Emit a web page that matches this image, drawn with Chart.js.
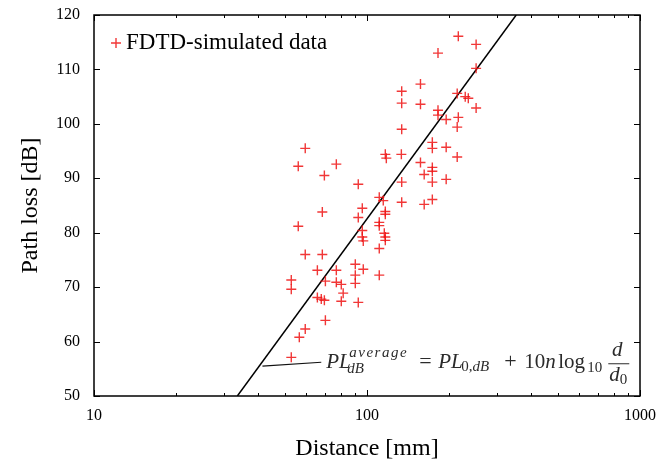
<!DOCTYPE html>
<html><head><meta charset="utf-8">
<script src="https://cdn.jsdelivr.net/npm/chart.js@4/dist/chart.umd.min.js"></script>
<style>html,body{margin:0;padding:0;background:#fff;overflow:hidden}</style>
</head><body>
<canvas id="c" width="660" height="464"></canvas>
<script>
// ---- data ----
const seriesLabel = 'FDTD-simulated data';
const distanceMm = [216,251,182,251,157,134,134,157,214,229,235,251,182,182,195,216,214,134,
  59.4,56.0,77.2,69.8,92.9,116.7,117.7,133.6,173.5,173.5,195,214,157,173.5,173.5,162,173.5,195,134,
  134,162,173.5,110.9,114.7,96.1,68.6,116.7,116.7,92.9,56.0,110.9,110.9,96.1,115.7,116.7,116.7,96.1,96.9,
  110.9,59.4,68.6,90.6,96.9,65.8,77.2,90.6,110.9,52.8,52.8,70.4,77.2,80.5,90.6,81.8,80.5,92.9,65.8,68.0,69.8,
  70.4,59.4,56.5,52.8];
const pathLossDb = [116.1,114.6,113.0,110.2,107.3,106.0,103.8,103.6,105.6,105.0,104.7,102.9,102.5,101.6,100.8,101.2,99.4,99.0,
  95.5,92.2,92.6,90.5,88.9,94.4,93.7,94.4,96.6,95.5,95.7,93.9,92.9,92.0,91.3,90.7,89.3,89.8,89.3,
  85.6,85.2,86.1,86.5,85.9,84.5,83.8,83.9,83.4,82.8,81.2,81.9,81.3,80.4,79.9,79.2,78.6,79.2,78.5,
  77.1,76.0,76.0,74.2,73.3,73.1,73.1,72.2,72.2,71.3,69.6,71.1,70.9,70.5,70.7,68.9,67.4,67.2,68.1,67.8,67.6,
  63.9,62.3,60.8,57.1];
const fitDistanceMm = [33.5, 352];
const fitPathLossDb = [50, 120];
const xTickValues = [10, 100, 1000];
const xMinorTickValues = [20,30,40,50,60,70,80,90,200,300,400,500,600,700,800,900];
const yTickValues = [50,60,70,80,90,100,110,120];
const leaderDistanceMm = [41.4, 68];
const leaderPathLossDb = [55.5, 56.2];

const SERIF = '"Liberation Serif", "Times New Roman", serif';
const RED = 'rgba(238,20,20,0.85)';

const frameTicks = {
  id: 'frameTicks',
  afterDatasetsDraw(chart) {
    const {ctx, chartArea: a, scales: {x, y}} = chart;
    ctx.save();
    ctx.strokeStyle = '#000';
    ctx.lineWidth = 1;
    ctx.beginPath();
    const tick = (px, len, vertical) => {
      if (vertical) {
        ctx.moveTo(px, a.bottom); ctx.lineTo(px, a.bottom - len);
        ctx.moveTo(px, a.top); ctx.lineTo(px, a.top + len);
      } else {
        ctx.moveTo(a.left, px); ctx.lineTo(a.left + len, px);
        ctx.moveTo(a.right, px); ctx.lineTo(a.right - len, px);
      }
    };
    xTickValues.forEach(v => tick(Math.round(x.getPixelForValue(v)) + 0.5, 6, true));
    xMinorTickValues.forEach(v => tick(Math.round(x.getPixelForValue(v)) + 0.5, 3, true));
    yTickValues.forEach(v => tick(Math.round(y.getPixelForValue(v)) + 0.5, 6, false));
    ctx.stroke();
    ctx.lineWidth = 1.5;
    ctx.strokeRect(a.left, a.top, a.right - a.left, a.bottom - a.top);
    ctx.restore();
  }
};

const legendBox = {
  id: 'legendBox',
  afterDatasetsDraw(chart) {
    const {ctx, chartArea: a} = chart;
    const ds = chart.data.datasets[0];
    ctx.save();
    ctx.strokeStyle = ds.borderColor; ctx.lineWidth = 1.4;
    ctx.beginPath();
    ctx.moveTo(a.left + 17, a.top + 28); ctx.lineTo(a.left + 27, a.top + 28);
    ctx.moveTo(a.left + 22, a.top + 23); ctx.lineTo(a.left + 22, a.top + 33);
    ctx.stroke();
    ctx.fillStyle = '#000';
    ctx.font = '23px ' + SERIF;
    ctx.textBaseline = 'alphabetic';
    ctx.fillText(ds.label, a.left + 32, a.top + 34);
    ctx.restore();
  }
};

const formula = {
  id: 'formula',
  afterDatasetsDraw(chart) {
    const {ctx, scales: {x, y}} = chart;
    const x0 = x.getPixelForValue(leaderDistanceMm[0]), y0 = y.getPixelForValue(leaderPathLossDb[0]);
    const ax = x.getPixelForValue(leaderDistanceMm[1]), ay = y.getPixelForValue(leaderPathLossDb[1]);
    ctx.save();
    ctx.strokeStyle = '#111'; ctx.lineWidth = 1.2;
    ctx.beginPath(); ctx.moveTo(x0, y0); ctx.lineTo(ax, ay); ctx.stroke();
    ctx.fillStyle = '#2b2b2b';
    ctx.textBaseline = 'alphabetic';
    const it = s => 'italic ' + s + 'px ' + SERIF;
    const up = s => s + 'px ' + SERIF;
    const put = (txt, font, dx, dy) => { ctx.font = font; ctx.fillText(txt, ax + dx, ay + dy); return ctx.measureText(txt).width; };
    put('PL', it(21), 5, 5.7);
    ctx.letterSpacing = '1.5px';
    put('average', it(15), 28, -5);
    ctx.letterSpacing = '0px';
    put('dB', it(15), 26, 10.5);
    put('=', up(22), 98, 6);
    put('PL', it(21), 117, 5.7);
    let w = put('0,', up(15), 140, 8.5);
    put('dB', it(15), 140 + w, 8.5);
    put('+', up(22), 183, 6);
    w = put('10', up(21), 203, 5.7);
    put('n', it(21), 203 + w, 5.7);
    put('log', up(21), 237, 5.7);
    put('10', up(15), 266, 10);
    ctx.font = it(21);
    const dw = ctx.measureText('d').width;
    put('d', it(21), 296 - dw / 2, -6);
    ctx.fillRect(ax + 287, ay + 1, 21, 1);
    w = put('d', it(21), 288, 18.5);
    put('0', up(15), 288 + w, 22);
    ctx.restore();
  }
};

new Chart(document.getElementById('c'), {
  type: 'scatter',
  data: {
    datasets: [
      {
        label: seriesLabel,
        data: distanceMm.map((d, i) => ({x: d, y: pathLossDb[i]})),
        pointStyle: 'cross', pointRadius: 5, borderColor: RED, backgroundColor: RED, borderWidth: 1.4
      },
      {
        label: 'fit',
        data: fitDistanceMm.map((d, i) => ({x: d, y: fitPathLossDb[i]})),
        showLine: true, borderColor: '#000', borderWidth: 1.5, pointRadius: 0, fill: false
      }
    ]
  },
  options: {
    responsive: false, animation: false, devicePixelRatio: 1,
    layout: {padding: {top: 15, right: 20, left: 0, bottom: 0}},
    plugins: {legend: {display: false}, tooltip: {enabled: false}},
    scales: {
      x: {
        type: 'logarithmic', min: 10, max: 1000,
        afterBuildTicks: s => { s.ticks = xTickValues.map(v => ({value: v})); },
        afterFit: s => { s.height = 68; s.paddingLeft = 0; s.paddingRight = 0; },
        ticks: {font: {family: SERIF, size: 16}, color: '#000', padding: 10, maxRotation: 0, autoSkip: false,
          callback: v => String(v)},
        grid: {display: false, drawTicks: false}, border: {display: false},
        title: {display: true, text: 'Distance [mm]', font: {family: SERIF, size: 24}, color: '#000', padding: {top: 0, bottom: 1}}
      },
      y: {
        min: 50, max: 120,
        afterBuildTicks: s => { s.ticks = yTickValues.map(v => ({value: v})); },
        afterFit: s => { s.width = 94; s.paddingTop = 0; s.paddingBottom = 0; },
        ticks: {font: {family: SERIF, size: 16}, color: '#000', padding: 14},
        grid: {display: false, drawTicks: false}, border: {display: false},
        title: {display: true, text: 'Path loss [dB]', font: {family: SERIF, size: 24}, color: '#000', padding: {top: 16, bottom: 0}}
      }
    }
  },
  plugins: [frameTicks, legendBox, formula]
});
</script>
</body></html>
